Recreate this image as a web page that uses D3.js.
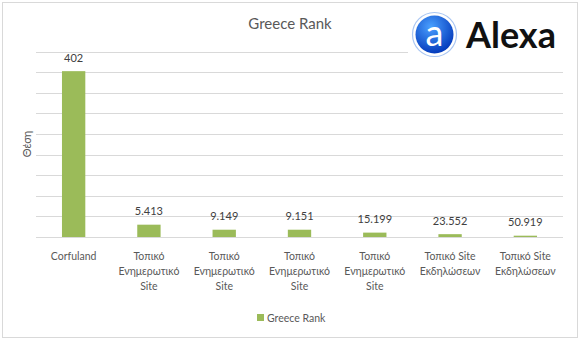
<!DOCTYPE html>
<html lang="el">
<head>
<meta charset="UTF-8">
<title>Greece Rank</title>
<style>
  body { margin: 0; background: #fff; }
  text { font-family: Lato, "Open Sans", sans-serif; }
</style>
</head>
<body>
<script src="https://d3js.org/d3.v7.min.js"></script>
<script>
// data
const categories = ["Corfuland", "Τοπικό Ενημερωτικό Site", "Τοπικό Ενημερωτικό Site",
  "Τοπικό Ενημερωτικό Site", "Τοπικό Ενημερωτικό Site", "Τοπικό Site Εκδηλώσεων", "Τοπικό Site Εκδηλώσεων"];
const ranks = [402, 5413, 9149, 9151, 15199, 23552, 50919];
const seriesName = "Greece Rank";
const yTitle = "Θέση";
const gridCount = 9;

const W = 581, H = 341;
const plot = { left: 36, right: 563, top: 51.7, bottom: 237 };

// bar height goes with 1/rank (a better rank gives a taller bar)
const inv = ranks.map(r => 1 / r);
const yMax = d3.max(inv) / 0.895;

const fmt = d3.formatLocale({ decimal: ",", thousands: ".", grouping: [3], currency: ["", "€"] }).format(",");

const svg = d3.select("body").append("svg").attr("width", W).attr("height", H);

svg.append("rect").attr("x", 2.5).attr("y", 2.5).attr("width", 575).attr("height", 335)
  .attr("fill", "#fff").attr("stroke", "#d9d9d9");

const x = d3.scaleBand().domain(d3.range(categories.length))
  .range([plot.left, plot.right]).paddingInner(0.69).paddingOuter(0.345);
const y = d3.scaleLinear().domain([0, yMax]).range([plot.bottom, plot.top]);

// gridlines
svg.append("g").selectAll("line")
  .data(d3.range(gridCount + 1).map(i => yMax * i / gridCount))
  .join("line")
  .attr("x1", plot.left).attr("x2", plot.right)
  .attr("y1", d => Math.round(y(d)) + 0.5).attr("y2", d => Math.round(y(d)) + 0.5)
  .attr("stroke", "#d9d9d9");

// bars
svg.append("g").selectAll("rect")
  .data(inv)
  .join("rect")
  .attr("x", (d, i) => x(i))
  .attr("width", x.bandwidth())
  .attr("y", d => y(d))
  .attr("height", d => y(0) - y(d))
  .attr("fill", "#9bbb59");

// value labels
svg.append("g").selectAll("text")
  .data(ranks)
  .join("text")
  .attr("x", (d, i) => x(i) + x.bandwidth() / 2)
  .attr("y", (d, i) => y(inv[i]) - 9.5)
  .attr("text-anchor", "middle")
  .attr("font-size", 11)
  .attr("fill", "#404040")
  .text(d => fmt(d));

// category labels, wrapped
const catG = svg.append("g");
categories.forEach((c, i) => {
  const t = catG.append("text")
    .attr("x", x(i) + x.bandwidth() / 2)
    .attr("y", 260)
    .attr("text-anchor", "middle")
    .attr("font-size", 10.5)
    .attr("fill", "#595959");
  const words = c.split(" ");
  let line = [], lines = [];
  const probe = t.append("tspan");
  words.forEach(w => {
    const test = line.concat(w).join(" ");
    probe.text(test);
    if (line.length && probe.node().getComputedTextLength() > 68) {
      lines.push(line.join(" "));
      line = [w];
    } else line.push(w);
  });
  lines.push(line.join(" "));
  probe.remove();
  lines.forEach((l, k) => {
    t.append("tspan").attr("x", x(i) + x.bandwidth() / 2).attr("dy", k ? 15 : 0).text(l);
  });
});

// title
svg.append("text").attr("x", 290).attr("y", 29).attr("text-anchor", "middle")
  .attr("font-size", 15).attr("fill", "#595959").text(seriesName);

// y axis title
svg.append("text").attr("transform", "translate(31,144) rotate(-90)")
  .attr("text-anchor", "middle").attr("font-size", 11).attr("fill", "#595959").text(yTitle);

// legend
svg.append("rect").attr("x", 257).attr("y", 314).attr("width", 7).attr("height", 7).attr("fill", "#9bbb59");
svg.append("text").attr("x", 267).attr("y", 321.5).attr("font-size", 10.5).attr("fill", "#595959").text(seriesName);

// Alexa logo
const logo = svg.append("g");
logo.append("rect").attr("x", 408).attr("y", 8).attr("width", 168).attr("height", 52).attr("fill", "#fff");
const grad = svg.append("defs").append("radialGradient").attr("id", "ag")
  .attr("cx", "40%").attr("cy", "30%").attr("r", "75%");
grad.append("stop").attr("offset", "0%").attr("stop-color", "#4aa0ff");
grad.append("stop").attr("offset", "100%").attr("stop-color", "#0035b8");
logo.append("circle").attr("cx", 434.5).attr("cy", 34.5).attr("r", 22)
  .attr("fill", "#fff").attr("stroke", "#a9c6f2").attr("stroke-width", 1.2);
logo.append("circle").attr("cx", 434.5).attr("cy", 34.5).attr("r", 19).attr("fill", "url(#ag)");
logo.append("text").attr("x", 434.5).attr("y", 45.5).attr("text-anchor", "middle")
  .attr("font-family", "'DejaVu Serif', serif").attr("font-size", 36).attr("fill", "#fff").text("a");
logo.append("text").attr("x", 466).attr("y", 47.5).attr("font-family", "'Open Sans', sans-serif")
  .attr("font-weight", 700).attr("font-size", 36).attr("fill", "#111").text("Alexa");
</script>
</body>
</html>
